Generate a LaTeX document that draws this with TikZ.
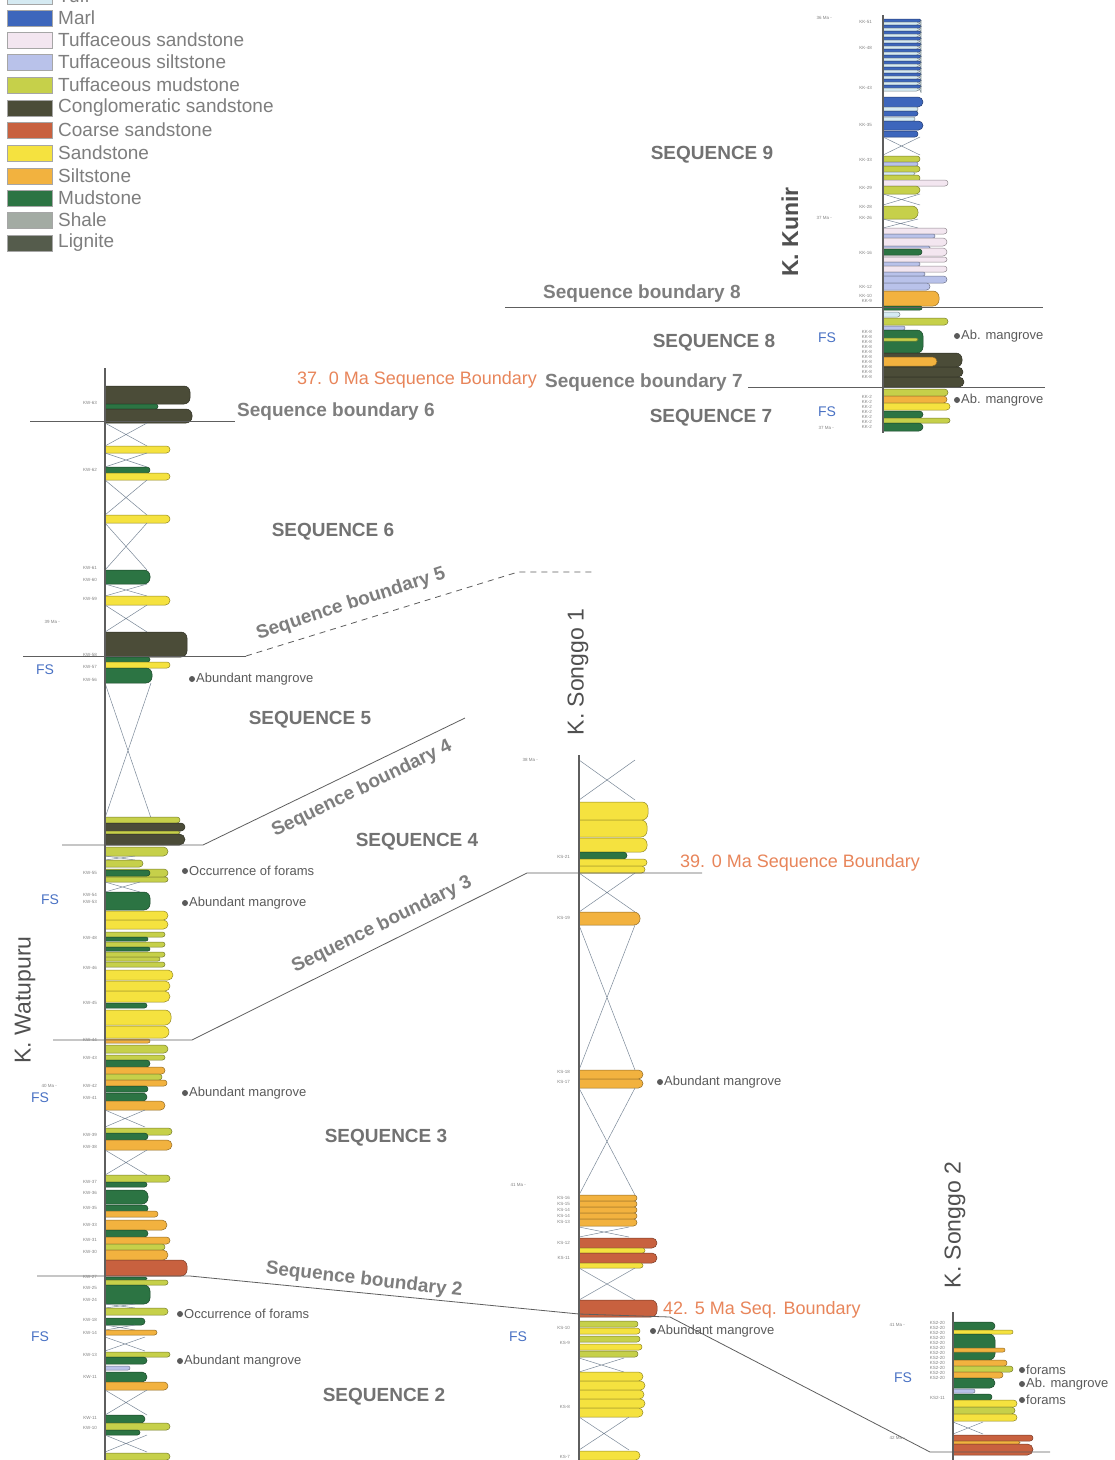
\documentclass[tikz,border=0pt]{standalone}
\usepackage{fontspec}
\setmainfont{Liberation Sans}
\definecolor{tuff}{HTML}{D5EAF2}
\definecolor{marl}{HTML}{3D66BC}
\definecolor{tuffsand}{HTML}{F3E6F0}
\definecolor{tuffsilt}{HTML}{B9C2EA}
\definecolor{tuffmud}{HTML}{C6D04A}
\definecolor{congl}{HTML}{4B4C38}
\definecolor{coarse}{HTML}{C8613F}
\definecolor{sand}{HTML}{F5E23F}
\definecolor{silt}{HTML}{F2B23F}
\definecolor{mud}{HTML}{2C7443}
\definecolor{shale}{HTML}{A3ABA3}
\definecolor{lignite}{HTML}{555C4C}
\definecolor{txtgray}{HTML}{727272}
\definecolor{leggray}{HTML}{7E7E7E}
\definecolor{anngray}{HTML}{5A5A5A}
\definecolor{agecol}{HTML}{E8855A}
\definecolor{ttlgray}{HTML}{505050}
\definecolor{fsblue}{HTML}{4A72C4}
\definecolor{linegray}{HTML}{5E5E5E}
\definecolor{covcol}{HTML}{7A8898}
\newcommand\bedd[4]{%
  \pgfmathsetmacro\rr{min((#2-#1)/2,6)}%
  \begin{scope}
    \clip (\ax,#1-1.5) rectangle (#3+2,#2+1.5);
    \filldraw[line width=0.5pt,fill=#4,draw=#4!60!black,rounded corners=\rr pt] (\ax-8,#1) rectangle (#3,#2);
  \end{scope}}
\newcommand\covr[3]{\draw[covline] (\ax,#1) -- (\ax+#3,#2) (\ax+#3,#1) -- (\ax,#2);}
\newcommand\mdot[3]{\fill[anngray] (#1,#2) circle (3pt); \node[ann] at (#1+4,#2) {#3};}
\begin{document}
\begin{tikzpicture}[x=1pt,y=-1pt,
  seq/.style={font=\fontsize{19}{19}\selectfont\bfseries, text=txtgray, inner sep=0},
  sbl/.style={font=\fontsize{19}{19}\selectfont\bfseries, text=leggray, inner sep=0},
  leg/.style={font=\fontsize{19}{19}\selectfont, text=leggray, anchor=west, inner sep=0},
  ann/.style={font=\fontsize{13}{13}\selectfont, text=anngray, anchor=west, inner sep=0},
  age/.style={font=\fontsize{18}{18}\selectfont, text=agecol, anchor=west, inner sep=0},
  ttl/.style={font=\fontsize{23}{23}\selectfont, text=ttlgray, rotate=90, inner sep=0},
  fs/.style={font=\fontsize{14}{14}\selectfont, text=fsblue, inner sep=0},
  tiny/.style={font=\fontsize{4.5}{4.5}\selectfont, text=gray, anchor=east, inner sep=0},
  covline/.style={draw=covcol, line width=0.5pt},
  sbline/.style={draw=linegray, line width=0.8pt},
  axisline/.style={draw=linegray, line width=1.2pt},
  legbox/.style={draw=gray!70, line width=0.4pt}]
\clip (0,0) rectangle (1115,1460);
\fill[white] (0,0) rectangle (1115,1460);

% ---------------- legend
\foreach \c/\yc/\t in {tuff/-4/Tuff, marl/18/Marl, tuffsand/40/Tuffaceous sandstone, tuffsilt/62/Tuffaceous siltstone, tuffmud/85/Tuffaceous mudstone, congl/108/Conglomeratic sandstone, coarse/130/Coarse sandstone, sand/153/Sandstone, silt/176/Siltstone, mud/198/Mudstone, shale/220/Shale, lignite/243/Lignite}{
  \filldraw[legbox, fill=\c] (7,\yc-8) rectangle (52,\yc+8);
  \node[leg] (leg\c) at (58,\yc) {\t};
}

% ---------------- K. Watupuru
\def\ax{105}
\bedd{386}{404}{190}{congl}
\bedd{404}{409}{158}{mud}
\bedd{409}{423}{192}{congl}
\covr{423}{446}{42}
\bedd{446}{453}{170}{sand}
\covr{453}{467}{42}
\bedd{467}{473}{150}{mud}
\bedd{473}{480}{170}{sand}
\covr{480}{515}{42}
\bedd{515}{523}{170}{sand}
\covr{523}{570}{42}
\bedd{570}{584}{150}{mud}
\covr{584}{596}{42}
\bedd{596}{605}{170}{sand}
\covr{605}{632}{42}
\bedd{632}{657}{187}{congl}
\bedd{657}{662}{150}{mud}
\bedd{662}{668}{170}{sand}
\bedd{668}{683}{152}{mud}
\covr{683}{818}{46}
\bedd{817}{823}{180}{tuffmud}
\bedd{823}{831}{185}{congl}
\bedd{831}{834}{180}{tuffmud}
\bedd{834}{845}{185}{congl}
\bedd{847}{856}{168}{tuffmud}
\covr{856}{860}{30}
\bedd{860}{867}{143}{tuffmud}
\bedd{869}{877}{168}{tuffmud}
\bedd{870}{876}{150}{mud}
\bedd{877}{882}{168}{tuffmud}
\covr{882}{892}{35}
\bedd{892}{910}{150}{mud}
\bedd{911}{920}{168}{sand}
\bedd{920}{929}{168}{sand}
\bedd{932}{937}{165}{tuffmud}
\bedd{937}{941}{148}{mud}
\bedd{942}{947}{165}{tuffmud}
\bedd{947}{951}{150}{mud}
\bedd{952}{957}{165}{tuffmud}
\bedd{957}{961}{160}{tuffmud}
\bedd{962}{967}{165}{tuffmud}
\bedd{970}{980}{173}{sand}
\bedd{981}{991}{170}{sand}
\bedd{991}{1002}{170}{sand}
\bedd{1003}{1008}{147}{mud}
\bedd{1010}{1025}{171}{sand}
\bedd{1026}{1038}{169}{sand}
\bedd{1039}{1043}{150}{silt}
\bedd{1045}{1053}{168}{tuffmud}
\bedd{1055}{1060}{165}{tuffmud}
\bedd{1060}{1067}{150}{mud}
\bedd{1067}{1074}{165}{silt}
\bedd{1074}{1080}{162}{tuffmud}
\bedd{1080}{1086}{167}{silt}
\bedd{1086}{1092}{148}{mud}
\bedd{1093}{1101}{147}{mud}
\bedd{1101}{1110}{165}{silt}
\covr{1110}{1127}{40}
\bedd{1128}{1135}{172}{tuffmud}
\bedd{1133}{1140}{148}{mud}
\bedd{1140}{1150}{172}{silt}
\covr{1150}{1175}{42}
\bedd{1175}{1182}{170}{tuffmud}
\bedd{1182}{1187}{147}{mud}
\bedd{1190}{1204}{148}{mud}
\bedd{1205}{1212}{148}{mud}
\bedd{1211}{1217}{158}{silt}
\bedd{1220}{1230}{167}{silt}
\bedd{1230}{1237}{148}{mud}
\bedd{1237}{1244}{170}{silt}
\bedd{1244}{1250}{165}{tuffmud}
\bedd{1250}{1260}{168}{silt}
\bedd{1260}{1276}{187}{coarse}
\bedd{1277}{1280}{147}{mud}
\bedd{1280}{1285}{168}{tuffmud}
\bedd{1285}{1304}{150}{mud}
\covr{1304}{1308}{30}
\bedd{1308}{1315}{168}{tuffmud}
\bedd{1318}{1325}{145}{mud}
\covr{1325}{1330}{30}
\bedd{1330}{1335}{157}{silt}
\covr{1337}{1351}{40}
\bedd{1352}{1357}{170}{tuffmud}
\bedd{1357}{1364}{147}{mud}
\bedd{1366}{1370}{130}{tuffsilt}
\bedd{1372}{1382}{147}{mud}
\bedd{1382}{1390}{168}{silt}
\covr{1390}{1415}{42}
\bedd{1415}{1423}{145}{mud}
\bedd{1423}{1430}{170}{tuffmud}
\bedd{1430}{1435}{140}{mud}
\covr{1435}{1452}{42}
\bedd{1453}{1460}{170}{tuffmud}
\draw[axisline] (105,368) -- (105,1462);

% ---------------- K. Songgo 1
\def\ax{579}
\covr{760}{800}{56}
\bedd{802}{820}{648}{sand}
\bedd{820}{837}{647}{sand}
\bedd{838}{852}{647}{sand}
\bedd{852}{859}{627}{mud}
\bedd{859}{866}{647}{sand}
\bedd{866}{873}{645}{sand}
\covr{873}{912}{56}
\bedd{912}{925}{640}{silt}
\covr{925}{1070}{56}
\bedd{1070}{1079}{643}{silt}
\bedd{1079}{1088}{643}{silt}
\covr{1088}{1195}{56}
\bedd{1195}{1201}{637}{silt}
\bedd{1201}{1207}{637}{silt}
\bedd{1207}{1213}{637}{silt}
\bedd{1213}{1219}{637}{silt}
\bedd{1219}{1226}{637}{silt}
\covr{1227}{1237}{50}
\bedd{1238}{1248}{657}{coarse}
\bedd{1248}{1253}{645}{sand}
\bedd{1253}{1263}{657}{coarse}
\bedd{1263}{1268}{643}{sand}
\covr{1268}{1300}{56}
\bedd{1300}{1317}{657}{coarse}
\bedd{1321}{1327}{638}{tuffmud}
\bedd{1328}{1334}{640}{sand}
\bedd{1336}{1342}{640}{tuffmud}
\bedd{1344}{1350}{642}{sand}
\bedd{1351}{1357}{638}{tuffmud}
\covr{1358}{1372}{45}
\bedd{1372}{1381}{643}{sand}
\bedd{1381}{1390}{645}{sand}
\bedd{1390}{1399}{644}{sand}
\bedd{1399}{1408}{645}{sand}
\bedd{1408}{1417}{643}{sand}
\covr{1417}{1450}{50}
\bedd{1451}{1460}{640}{sand}
\draw[axisline] (579,755) -- (579,1462);

% ---------------- K. Kunir
\def\ax{883}
\foreach \y in {19,25,...,85}{\bedd{\y}{\y+3}{921}{marl}\bedd{\y+3}{\y+6}{921}{tuff}}
\bedd{97}{107}{923}{marl}
\bedd{107}{111}{918}{tuff}
\bedd{111}{116}{918}{marl}
\bedd{117}{121}{915}{tuff}
\bedd{121}{130}{923}{marl}
\bedd{131}{137}{918}{marl}
\covr{137}{155}{37}
\bedd{156}{162}{920}{tuffmud}
\bedd{162}{166}{918}{tuffsilt}
\bedd{166}{172}{920}{tuffmud}
\bedd{172}{175}{915}{tuff}
\bedd{175}{181}{920}{tuffmud}
\bedd{180}{186}{948}{tuffsand}
\bedd{186}{194}{920}{tuffmud}
\covr{194}{205}{37}
\bedd{206}{219}{918}{tuffmud}
\covr{219}{228}{35}
\bedd{228}{234}{947}{tuffsand}
\bedd{234}{238}{935}{tuffsilt}
\bedd{238}{246}{947}{tuffsand}
\bedd{246}{249}{930}{tuffsilt}
\bedd{248}{256}{947}{tuffsand}
\bedd{249}{255}{922}{mud}
\bedd{257}{262}{947}{tuffsand}
\bedd{262}{266}{920}{tuffsilt}
\bedd{266}{272}{947}{tuffsand}
\bedd{272}{276}{925}{tuffsilt}
\bedd{276}{283}{947}{tuffsilt}
\bedd{283}{290}{930}{tuffsilt}
\bedd{291}{306}{939}{silt}
\bedd{306}{310}{922}{mud}
\bedd{312}{317}{900}{tuff}
\bedd{318}{325}{948}{tuffmud}
\bedd{326}{330}{905}{tuffsilt}
\bedd{330}{353}{923}{mud}
\bedd{338}{341}{918}{tuffmud}
\bedd{353}{367}{962}{congl}
\bedd{357}{366}{937}{silt}
\bedd{367}{377}{963}{congl}
\bedd{377}{387}{964}{congl}
\bedd{389}{396}{948}{tuffmud}
\bedd{396}{403}{947}{silt}
\bedd{403}{410}{950}{sand}
\bedd{411}{418}{923}{mud}
\bedd{418}{423}{950}{tuffmud}
\bedd{423}{431}{923}{mud}
\draw[axisline] (883,15) -- (883,433);

% ---------------- K. Songgo 2
\def\ax{953}
\bedd{1322}{1330}{995}{mud}
\bedd{1330}{1334}{1013}{sand}
\bedd{1334}{1360}{995}{mud}
\bedd{1348}{1352}{1005}{silt}
\bedd{1360}{1366}{1007}{silt}
\bedd{1366}{1372}{1013}{tuffmud}
\bedd{1372}{1378}{1003}{silt}
\bedd{1378}{1388}{995}{mud}
\bedd{1389}{1393}{975}{tuffsilt}
\bedd{1394}{1400}{992}{mud}
\bedd{1400}{1407}{1017}{sand}
\bedd{1407}{1414}{1015}{tuffmud}
\bedd{1414}{1421}{1017}{sand}
\covr{1422}{1434}{30}
\bedd{1435}{1441}{1033}{coarse}
\bedd{1441}{1444}{1020}{silt}
\bedd{1444}{1455}{1033}{coarse}
\draw[axisline] (953,1312) -- (953,1462);

% ---------------- sequence boundary lines
\draw[sbline] (30,421) -- (235,421);
\draw[sbline] (23,656) -- (246,656);
\draw[sbline, dashed, dash pattern=on 6pt off 5pt] (246,656) -- (518,572) -- (592,572);
\draw[sbline] (62,845) -- (203,845) -- (465,718);
\draw[sbline] (53,1040) -- (192,1040) -- (527,873) -- (702,873);
\draw[sbline] (37,1276) -- (190,1276) -- (579,1314) -- (670,1317);
\draw[sbline] (670,1317) -- (930,1452) -- (1050,1452);
\draw[sbline] (505,307) -- (1043,307);
\draw[sbline] (748,387) -- (1045,387);

% ---------------- sequence labels
\node[seq] (s9) at (712,155) {SEQUENCE 9};
\node[seq] (s8) at (714,343) {SEQUENCE 8};
\node[seq] (s7) at (711,418) {SEQUENCE 7};
\node[seq] (s6) at (333,532) {SEQUENCE 6};
\node[seq] (s5) at (310,720) {SEQUENCE 5};
\node[seq] (s4) at (417,842) {SEQUENCE 4};
\node[seq] (s3) at (386,1138) {SEQUENCE 3};
\node[seq] (s2) at (384,1397) {SEQUENCE 2};

\node[sbl, anchor=west] (b8) at (543,294) {Sequence boundary 8};
\node[sbl, anchor=west] (b7) at (545,383) {Sequence boundary 7};
\node[sbl, anchor=west] (b6) at (237,412) {Sequence boundary 6};
\node[sbl, rotate=18] (b5) at (351,604) {Sequence boundary 5};
\node[sbl, rotate=26] (b4) at (362,789) {Sequence boundary 4};
\node[sbl, rotate=26] (b3) at (382,925) {Sequence boundary 3};
\node[sbl, rotate=-6.5] (b2) at (364,1280) {Sequence boundary 2};

\node[age] (a37) at (297,380) {37. 0 Ma Sequence Boundary};
\node[age] (a39) at (680,863) {39. 0 Ma Sequence Boundary};
\node[age] (a42) at (663,1310) {42. 5 Ma Seq. Boundary};

% ---------------- column titles
\node[ttl] (tw) at (25,1000) {K. Watupuru};
\node[ttl] (ts1) at (578,672) {K. Songgo 1};
\node[ttl, font=\fontsize{23}{23}\selectfont\bfseries] (tk) at (790,232) {K. Kunir};
\node[ttl] (ts2) at (955,1225) {K. Songgo 2};

% ---------------- FS labels
\node[fs] (fs1) at (45,670) {FS};
\node[fs] (fs2) at (50,900) {FS};
\node[fs] (fs3) at (40,1098) {FS};
\node[fs] (fs4) at (40,1337) {FS};
\node[fs] (fs5) at (518,1337) {FS};
\node[fs] (fs6) at (827,338) {FS};
\node[fs] (fs7) at (827,412) {FS};
\node[fs] (fs8) at (903,1378) {FS};

% ---------------- annotations
\mdot{192}{679}{Abundant mangrove}
\mdot{185}{871}{Occurrence of forams}
\mdot{185}{903}{Abundant mangrove}
\mdot{185}{1093}{Abundant mangrove}
\mdot{180}{1314}{Occurrence of forams}
\mdot{180}{1361}{Abundant mangrove}
\mdot{660}{1082}{Abundant mangrove}
\mdot{653}{1331}{Abundant mangrove}
\mdot{957}{336}{Ab. mangrove}
\mdot{957}{400}{Ab. mangrove}
\mdot{1022}{1370}{forams}
\mdot{1022}{1384}{Ab. mangrove}
\mdot{1022}{1400}{forams}

% ---------------- sample labels
\foreach \y/\t in {403/KW-63, 470/KW-62, 568/KW-61, 580/KW-60, 599/KW-59, 655/KW-58, 667/KW-57, 680/KW-56, 873/KW-55, 895/KW-54, 902/KW-53, 938/KW-48, 968/KW-46, 1003/KW-45, 1040/KW-44, 1058/KW-43, 1086/KW-42, 1098/KW-41, 1135/KW-39, 1147/KW-38, 1182/KW-37, 1193/KW-36, 1208/KW-35, 1225/KW-33, 1240/KW-31, 1252/KW-30, 1277/KW-27, 1288/KW-25, 1300/KW-24, 1320/KW-18, 1333/KW-14, 1355/KW-13, 1377/KW-11, 1418/KW-11, 1428/KW-10}
  {\node[tiny] at (97,\y) {\t};}
\foreach \y/\t in {857/KS-21, 918/KS-19, 1072/KS-18, 1082/KS-17, 1198/KS-16, 1204/KS-15, 1210/KS-14, 1216/KS-14, 1222/KS-13, 1243/KS-12, 1258/KS-11, 1328/KS-10, 1343/KS-9, 1407/KS-8, 1457/KS-7}
  {\node[tiny] at (570,\y) {\t};}
\foreach \y/\t in {22/KK-51, 48/KK-48, 88/KK-43, 125/KK-35, 160/KK-33, 188/KK-29, 207/KK-28, 218/KK-26, 253/KK-16, 287/KK-12, 296/KK-10, 301/KK-9}
  {\node[tiny] at (872,\y) {\t};}
\foreach \y in {332,337,...,377}{\node[tiny] at (872,\y) {KK-8};}
\foreach \y in {397,402,...,427}{\node[tiny] at (872,\y) {KK-2};}
\foreach \y in {1323,1328,...,1378}{\node[tiny] at (945,\y) {KS2-20};}
\node[tiny] at (945,1398) {KS2-11};
\foreach \x/\y/\t in {60/622/39 Ma -, 57/1086/40 Ma -, 538/760/38 Ma -, 526/1185/41 Ma -, 832/18/36 Ma -, 832/218/37 Ma -, 834/428/37 Ma -, 905/1325/41 Ma -, 905/1438/42 Ma -}
  {\node[tiny] at (\x,\y) {\t};}
\end{tikzpicture}
\end{document}
